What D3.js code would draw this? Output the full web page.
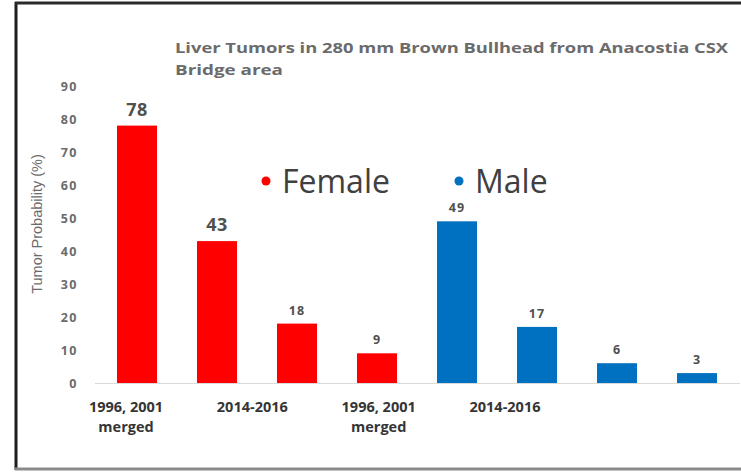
<!DOCTYPE html>
<html>
<head>
<meta charset="utf-8">
<script src="https://cdn.jsdelivr.net/npm/d3@7"></script>
<style>
  body { margin: 0; background: #fff; }
  svg { display: block; }
</style>
</head>
<body>
<div id="chart"></div>
<script>
// Chart data
var groups = ["F1", "F2", "F3", "F4", "M1", "M2", "M3", "M4"];
var values = [78, 43, 18, 9, 49, 17, 6, 3];
var sexes = ["Female", "Female", "Female", "Female", "Male", "Male", "Male", "Male"];
var bigLabels = [true, true, false, false, false, false, false, false];
var yTicks = [0, 10, 20, 30, 40, 50, 60, 70, 80, 90];
var xLabels = [["1996, 2001", "merged"], ["2014-2016"], ["1996, 2001", "merged"], ["2014-2016"]];
var legendNames = ["Female", "Male"];
var titleLines = ["Liver Tumors in 280 mm Brown Bullhead from Anacostia CSX", "Bridge area"];

var W = 741, H = 472;
var colors = { "Female": "#ff0000", "Male": "#0070c0" };

var svg = d3.select("#chart").append("svg")
    .attr("width", W)
    .attr("height", H);

// Frame round the picture
svg.append("line").attr("x1", 16).attr("x2", 16).attr("y1", 2).attr("y2", 470)
    .style("stroke", "#1e1e1e").style("stroke-width", 3);
svg.append("line").attr("x1", 15).attr("x2", W).attr("y1", 3).attr("y2", 3)
    .style("stroke", "#2a2a2a").style("stroke-width", 3);
svg.append("line").attr("x1", 15).attr("x2", W).attr("y1", 469).attr("y2", 469)
    .style("stroke", "#8a8a8a").style("stroke-width", 3);

// Scales
var x = d3.scaleBand().domain(groups).range([97, 737]).paddingInner(0.5).paddingOuter(0.25);
var y = d3.scaleLinear().domain([0, 90]).range([383, 86]);
var xl = d3.scalePoint().domain(d3.range(xLabels.length)).range([126, 505]);

// Title
var title = svg.append("text")
    .attr("x", 175).attr("y", 53)
    .style("font-family", "'Open Sans', sans-serif")
    .style("font-size", "14.5px")
    .style("font-weight", "bold")
    .attr("fill", "#6b6b6b");
title.append("tspan").attr("x", 175)
    .attr("textLength", 553).attr("lengthAdjust", "spacingAndGlyphs")
    .text(titleLines[0]);
title.append("tspan").attr("x", 175).attr("dy", 22)
    .attr("textLength", 108).attr("lengthAdjust", "spacingAndGlyphs")
    .text(titleLines[1]);

// Y axis tick labels
var yAxis = d3.axisLeft(y).tickValues(yTicks).tickSize(0).tickPadding(0);
var yg = svg.append("g").attr("transform", "translate(78,0)").call(yAxis);
yg.select(".domain").remove();
yg.selectAll("text")
    .style("font-family", "'Open Sans', sans-serif")
    .style("font-size", "12.5px")
    .style("font-weight", "bold")
    .style("letter-spacing", "1.5px")
    .attr("fill", "#6b6b6b");

// Y axis title
svg.append("text")
    .attr("transform", "translate(42,224) rotate(-90)")
    .style("text-anchor", "middle")
    .style("font-family", "'Liberation Sans Narrow', 'Liberation Sans', sans-serif")
    .style("font-size", "14.5px")
    .attr("fill", "#6b6b6b")
    .text("Tumor Probability (%)");

// Baseline
svg.append("line")
    .attr("x1", 95).attr("x2", 740)
    .attr("y1", y(0) + 0.5).attr("y2", y(0) + 0.5)
    .style("stroke", "#d9d9d9").style("stroke-width", 1);

// Bars
svg.selectAll("rect.bar")
    .data(values)
    .enter().append("rect")
    .attr("class", "bar")
    .attr("x", function(d, i) { return x(groups[i]); })
    .attr("y", function(d) { return y(d); })
    .attr("width", x.bandwidth())
    .attr("height", function(d) { return y(0) - y(d); })
    .style("fill", function(d, i) { return colors[sexes[i]]; });

// Value labels
svg.selectAll("text.val")
    .data(values)
    .enter().append("text")
    .attr("class", "val")
    .attr("x", function(d, i) { return x(groups[i]) + x.bandwidth() / 2; })
    .attr("y", function(d, i) { return y(d) - (bigLabels[i] ? 10 : 9); })
    .style("text-anchor", "middle")
    .style("font-family", "'Open Sans', sans-serif")
    .style("font-weight", "bold")
    .style("font-size", function(d, i) { return bigLabels[i] ? "18px" : "12.5px"; })
    .style("letter-spacing", function(d, i) { return bigLabels[i] ? "0.5px" : "1px"; })
    .attr("fill", "#505050")
    .text(function(d) { return d; });

// Category labels
xLabels.forEach(function(lines, i) {
    var t = svg.append("text")
        .attr("x", xl(i)).attr("y", 412)
        .style("text-anchor", "middle")
        .style("font-family", "'Open Sans', sans-serif")
        .style("font-weight", "bold")
        .style("font-size", "14.5px")
        .attr("fill", "#353535");
    lines.forEach(function(s, j) {
        t.append("tspan").attr("x", xl(i)).attr("dy", j == 0 ? 0 : 20).text(s);
    });
});

// Legend
var lx = d3.scalePoint().domain(legendNames).range([266, 459]);
var leg = svg.selectAll("g.leg")
    .data(legendNames)
    .enter().append("g")
    .attr("class", "leg")
    .attr("transform", function(d) { return "translate(" + lx(d) + ",181)"; });
leg.append("circle")
    .attr("r", 4.5)
    .style("fill", function(d) { return colors[d]; });
leg.append("text")
    .attr("x", 16)
    .attr("dy", "0.36em")
    .style("font-family", "'Open Sans', sans-serif")
    .style("font-size", "32px")
    .attr("fill", "#404040")
    .text(function(d) { return d; });
</script>
</body>
</html>
